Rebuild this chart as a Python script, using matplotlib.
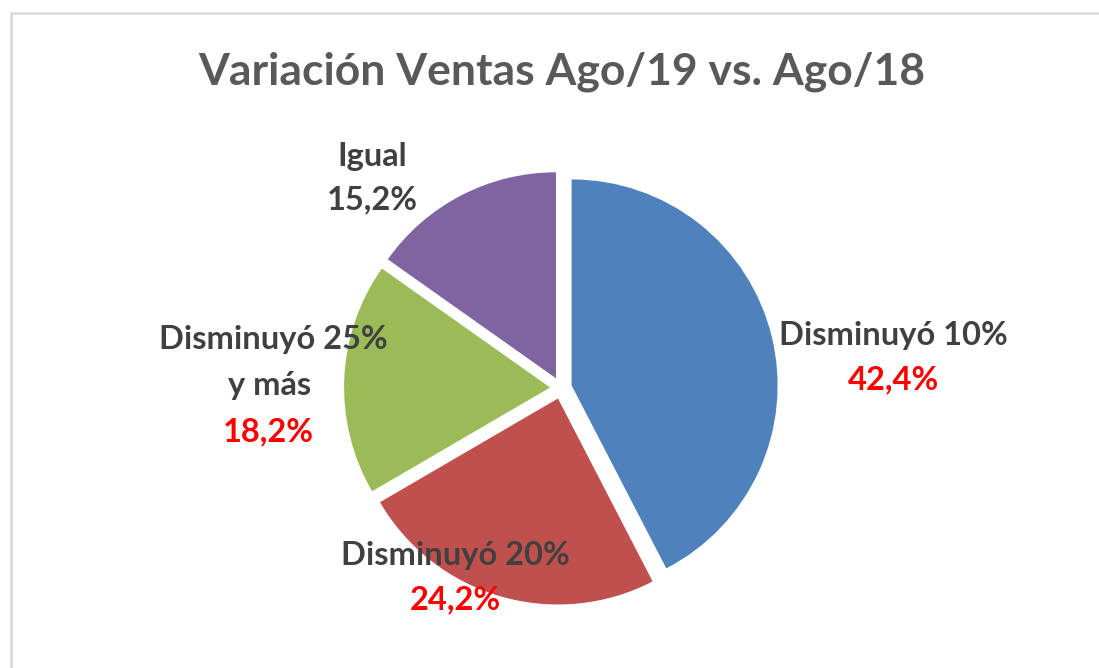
import matplotlib.pyplot as plt
from matplotlib.patches import Rectangle

# data
categories = ["Disminuyó 10%", "Disminuyó 20%", "Disminuyó 25%\ny más", "Igual"]
values = [42.4, 24.2, 18.2, 15.2]
pct_labels = ["42,4%", "24,2%", "18,2%", "15,2%"]
colors = ["#4F81BD", "#C0504D", "#9BBB59", "#8064A2"]

plt.rcParams['font.family'] = ['Lato', 'DejaVu Sans']

W, H = 1099, 668
fig = plt.figure(figsize=(W / 100, H / 100), dpi=100)

# light gray chart frame (only top and left edges are visible)
fig.patches.append(Rectangle((11 / W, -0.1), 1.2, 1.1 - 13 / H,
                             transform=fig.transFigure, fill=False,
                             edgecolor="#D9D9D9", linewidth=1.8))

# pie axes: center (561, 388) px, radius 206 px
cx, cy, r = 561, 388, 206
L = 1.6
side = 2 * L * r
ax = fig.add_axes([(cx - side / 2) / W, (H - cy - side / 2) / H, side / W, side / H])
ax.pie(values, colors=colors, startangle=90, counterclock=False,
       explode=[0.053] * 4, radius=1, wedgeprops=dict(linewidth=0))
ax.set_xlim(-L, L)
ax.set_ylim(-L, L)
ax.set_aspect('equal')
ax.axis('off')

fig.text(562 / W, 1 - 72 / H, "Variación Ventas Ago/19 vs. Ago/18",
         ha='center', va='center', fontsize=32, fontweight='bold', color="#595959")

# label positions (pixel, top-left origin), one entry per text line
name_pos = [[(893, 335)], [(455, 555)], [(273, 340), (270, 385)], [(372, 157)]]
pct_pos = [(893, 380), (455, 600), (268, 432), (372, 200)]
pct_color = ["#FF0000", "#FF0000", "#FF0000", "#404040"]

for name, lines_pos, pct, (px, py), pc in zip(categories, name_pos, pct_labels, pct_pos, pct_color):
    for line, (nx, ny) in zip(name.split("\n"), lines_pos):
        fig.text(nx / W, 1 - ny / H, line, ha='center', va='center', fontsize=23.5,
                 fontweight='bold', color="#404040")
    fig.text(px / W, 1 - py / H, pct, ha='center', va='center', fontsize=23.5,
             fontweight='bold', color=pc)

fig.savefig("out.png", dpi=100, facecolor="white")
